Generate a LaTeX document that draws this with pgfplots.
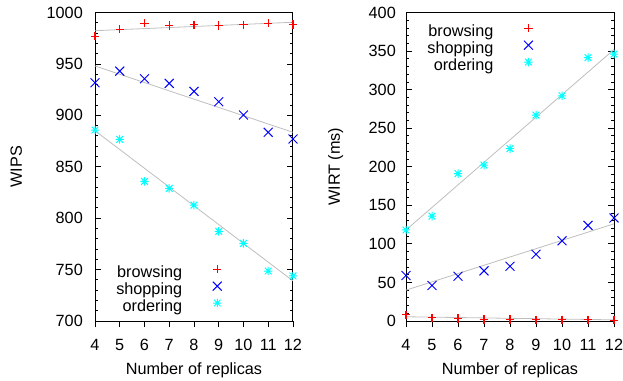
\documentclass[border=0pt]{standalone}
\usepackage{fontspec}
\setmainfont{Liberation Sans}
\usepackage{pgfplots}
\pgfplotsset{compat=1.18}
\definecolor{gpred}{RGB}{255,0,0}
\definecolor{gpblue}{RGB}{0,0,255}
\definecolor{gpcyan}{RGB}{0,255,255}
\definecolor{trend}{RGB}{190,190,190}
\pgfdeclareplotmark{gpstar}{%
  \pgfpathmoveto{\pgfqpoint{-\pgfplotmarksize}{0pt}}\pgfpathlineto{\pgfqpoint{\pgfplotmarksize}{0pt}}%
  \pgfpathmoveto{\pgfqpoint{0pt}{-\pgfplotmarksize}}\pgfpathlineto{\pgfqpoint{0pt}{\pgfplotmarksize}}%
  \pgfpathmoveto{\pgfqpoint{-0.8\pgfplotmarksize}{-0.8\pgfplotmarksize}}\pgfpathlineto{\pgfqpoint{0.8\pgfplotmarksize}{0.8\pgfplotmarksize}}%
  \pgfpathmoveto{\pgfqpoint{-0.8\pgfplotmarksize}{0.8\pgfplotmarksize}}\pgfpathlineto{\pgfqpoint{0.8\pgfplotmarksize}{-0.8\pgfplotmarksize}}%
  \pgfusepathqstroke}
\pgfplotsset{
  gp/.style={
    scale only axis, height=308.5bp,
    font=\fontsize{16.3}{19}\selectfont,
    xmin=4, xmax=12, xtick={4,...,12},
    xtick pos=left, ytick pos=both,
    xtick align=outside, ytick align=inside,
    major tick length=6bp, minor tick length=3bp,
    minor y tick num=4,
    axis line style={line width=1bp},
    every major tick/.style={black, line width=0.8bp},
    every minor tick/.style={black, line width=0.8bp},
    clip=false,
    /pgf/number format/assume math mode=true,
    /pgf/number format/set thousands separator={},
    xticklabel style={anchor=north, inner sep=0pt, yshift=-12bp},
    every axis x label/.style={at={(axis description cs:0.5,-0.159)}, anchor=center},
    legend plot pos=right, legend cell align=right,
    legend style={draw=none, fill=none, inner sep=0pt, outer sep=0pt, row sep=0pt, column sep=0pt,
      nodes={text height=11.2bp, text depth=3.5bp, inner sep=1bp}},
    legend image code/.code={\path (0bp,0bp); \draw[##1] plot coordinates {(33.5bp,4.3bp)};},
  },
  br/.style={only marks, mark=+, mark size=4.2bp, draw=gpred, color=gpred, mark options={draw=gpred, fill=gpred}, line width=1.1bp},
  sh/.style={only marks, mark=x, mark size=6.3bp, color=gpblue, line width=1bp},
  od/.style={only marks, mark=gpstar, mark size=4.2bp, color=gpcyan, line width=1bp},
  tr/.style={trend, line width=0.8bp, no marks, forget plot},
}
\begin{document}
\begin{tikzpicture}
\begin{axis}[gp, at={(95bp,60bp)}, anchor=south west, width=198bp,
  ymin=700, ymax=1000, ytick={700,750,...,1000},
  yticklabel style={anchor=east, inner sep=0pt, xshift=-12bp},
  every axis y label/.style={at={(axis description cs:-0.397,0.5)}, rotate=90, anchor=center},
  xlabel={Number of replicas}, ylabel={WIPS},
  legend style={at={(axis description cs:0.64,0.182)}, anchor=north east}]
\addplot[tr] coordinates {(4,982.3) (12,990.5)};
\addplot[tr] coordinates {(4,948) (12,883.5)};
\addplot[tr] coordinates {(4,885) (12,739)};
\addplot[br] coordinates {(4,977) (5,983.7) (6,989.5) (7,987.2) (8,988.1) (9,987.5) (10,988) (11,989.5) (12,988.5)};
\addlegendentry{browsing}
\addplot[sh] coordinates {(4,931.7) (5,943) (6,935.6) (7,931.1) (8,923.3) (9,913.2) (10,900.3) (11,883.5) (12,877)};
\addlegendentry{shopping}
\addplot[od] coordinates {(4,885.7) (5,876.6) (6,835.8) (7,829) (8,812.7) (9,787.1) (10,775.5) (11,748.6) (12,743.8)};
\addlegendentry{ordering}
\end{axis}
\begin{axis}[gp, at={(406bp,60bp)}, anchor=south west, width=208bp,
  ymin=0, ymax=400, ytick={0,50,...,400},
  yticklabel style={anchor=east, inner sep=0pt, xshift=-10bp},
  every axis y label/.style={at={(axis description cs:-0.338,0.5)}, rotate=90, anchor=center},
  xlabel={Number of replicas}, ylabel={WIRT (ms)},
  legend style={at={(axis description cs:0.61,0.963)}, anchor=north east}]
\addplot[tr] coordinates {(4,5.5) (12,1.5)};
\addplot[tr] coordinates {(4,40) (12,126)};
\addplot[tr] coordinates {(4,118) (12,352)};
\addplot[br] coordinates {(4,8) (5,4) (6,3) (7,2) (8,2) (9,1.5) (10,1.5) (11,1.5) (12,1)};
\addlegendentry{browsing}
\addplot[sh] coordinates {(4,59) (5,46) (6,58) (7,65) (8,71) (9,86.5) (10,104) (11,124) (12,133.6)};
\addlegendentry{shopping}
\addplot[od] coordinates {(4,118) (5,136) (6,191) (7,202) (8,223.5) (9,267) (10,292) (11,341.5) (12,346)};
\addlegendentry{ordering}
\end{axis}
\pgfresetboundingbox
\path[use as bounding box] (0bp,0bp) rectangle (623bp,381bp);
\end{tikzpicture}
\end{document}
